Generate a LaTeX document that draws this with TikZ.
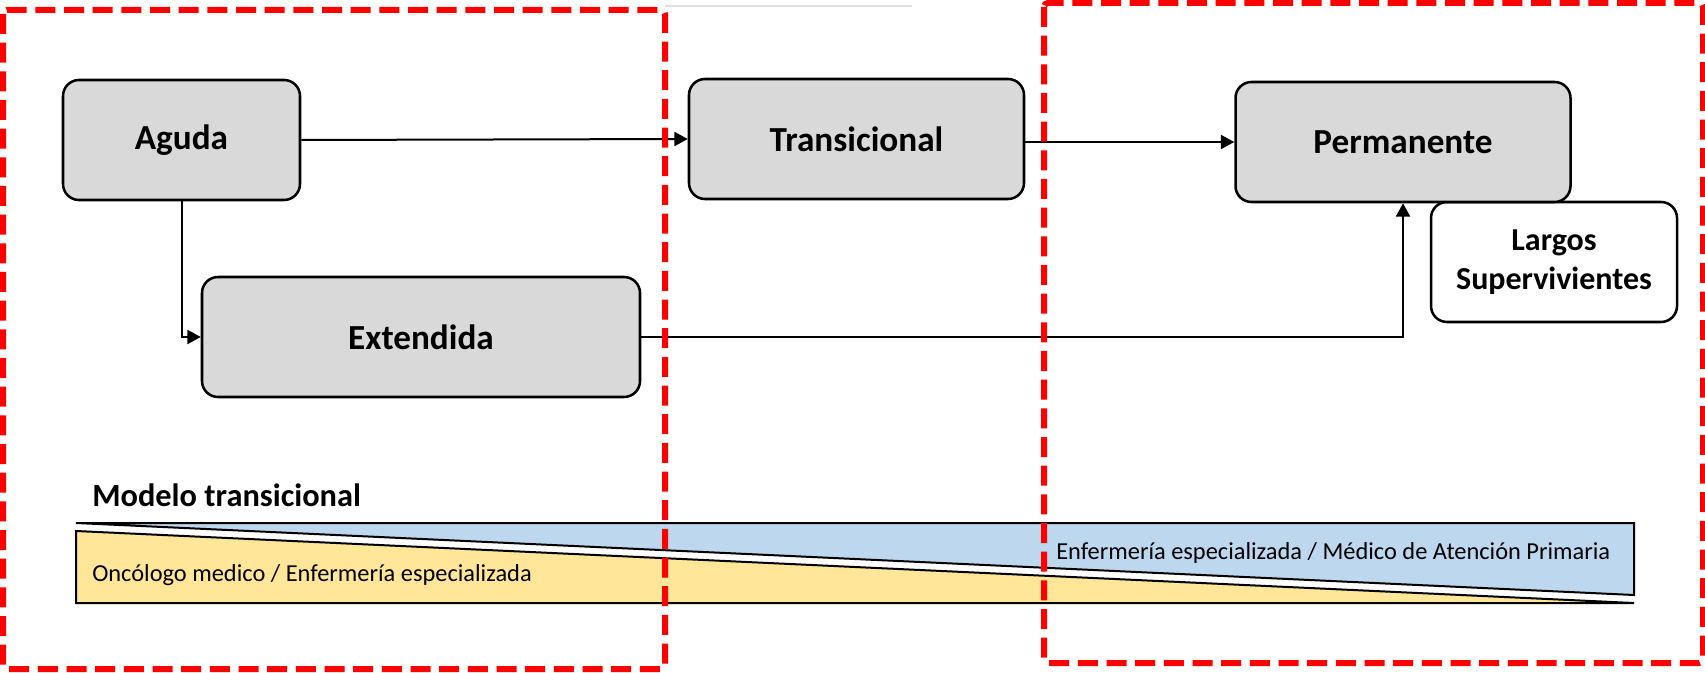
\documentclass[tikz,border=0pt]{standalone}
\usepackage{fontspec}
\setmainfont{Carlito}
\usetikzlibrary{arrows.meta}
\definecolor{boxgray}{HTML}{D9D9D9}
\definecolor{barblue}{HTML}{BDD7EE}
\definecolor{baryellow}{HTML}{FFE699}
\definecolor{dashred}{HTML}{FF0000}
\tikzset{
  stage/.style={draw=black, line width=1.9pt, fill=boxgray, rounded corners=12pt,
    minimum height=90pt, inner sep=0pt, align=center, font=\bfseries\fontsize{26.4}{30}\selectfont},
  survbox/.style={draw=black, line width=1.9pt, fill=white, rounded corners=12pt,
    minimum height=90pt, minimum width=184.5pt, inner sep=0pt, align=center,
    font=\bfseries\fontsize{24}{29}\selectfont},
  flow/.style={draw=black, line width=1.5pt, -{Triangle[length=10pt,width=10.5pt]}},
  phase/.style={draw=dashred, line width=4.5pt, dash pattern=on 15pt off 6.5pt, rounded corners=3pt},
  bartext/.style={anchor=base west, inner sep=0pt, font=\fontsize{18.3}{22}\selectfont},
  bartitle/.style={anchor=base west, inner sep=0pt, font=\bfseries\fontsize{24.3}{28}\selectfont}
}
\begin{document}
\begin{tikzpicture}[x=0.75pt,y=-0.75pt]
\useasboundingbox (0,0) rectangle (1705,673);
\draw[black!12, line width=1pt] (665,6) -- (912,6);

% boxes
\node[stage, minimum width=177.75pt] (aguda) at (181.5,140) {Aguda};
\node[stage, minimum width=328.5pt] (ext) at (421,337) {Extendida};
\node[stage, minimum width=251.25pt] (trans) at (856.5,139) {Transicional};
\node[survbox] (largos) at (1554,262) {Largos\\Supervivientes};
\node[stage, minimum width=251.25pt] (perm) at (1403,142) {Permanente};

% connectors
\draw[flow] (aguda.east) -- (trans.west);
\draw[flow] (trans.east |- perm.west) -- (perm.west);
\draw[flow] (aguda.south) |- (ext.west);
\draw[flow] (ext.east) -| (perm.south);

% transitional model bar
\node[bartitle] (title) at (92,506) {Modelo transicional};
\fill[barblue] (76,523) -- (1634,523) -- (1634,595) -- cycle;
\draw[black, line width=1.5pt, line join=miter] (76,523) -- (1634,523) -- (1634,595) -- cycle;
\filldraw[fill=baryellow, draw=black, line width=1.5pt] (76,531) -- (1634,603) -- (76,603) -- cycle;
\node[bartext] (onco) at (92,581) {Oncólogo medico / Enfermería especializada};
\node[bartext] (enf) at (1056,559) {Enfermería especializada / Médico de Atención Primaria};

% phase frames
\draw[phase] (3,10) rectangle (665,669);
\draw[phase] (1044,3) rectangle (1703,663);
\end{tikzpicture}
\end{document}
